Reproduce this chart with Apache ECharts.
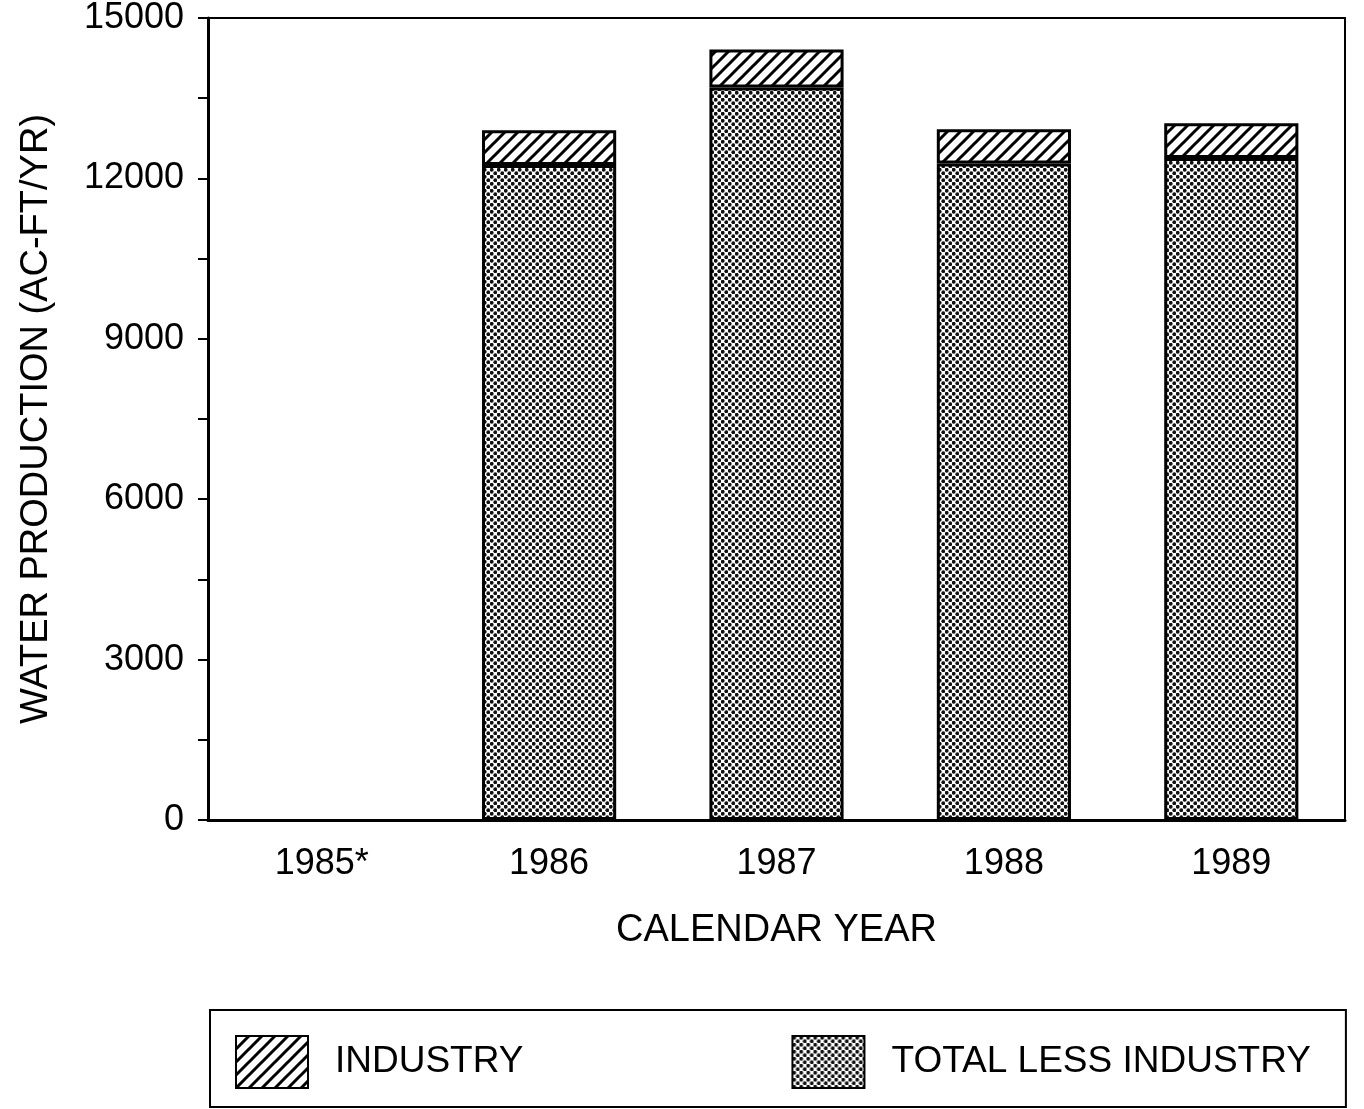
<!DOCTYPE html>
<html>
<head>
<meta charset="utf-8">
<script src="https://cdn.jsdelivr.net/npm/echarts@6/dist/echarts.min.js"></script>
<style>
  html, body { margin: 0; padding: 0; background: #fff; }
  #main { width: 1364px; height: 1109px; }
</style>
</head>
<body>
<div id="main"></div>
<script>
// data (1985* has no bar)
const years = ['1985*', '1986', '1987', '1988', '1989'];
const totalLessIndustry = [null, 12250, 13700, 12280, 12380];
const industry = [null, 650, 710, 640, 650];

// hatch "/" pattern for industry
function hatchPattern() {
  const c = document.createElement('canvas');
  const s = 13;
  c.width = s; c.height = s;
  const ctx = c.getContext('2d');
  ctx.fillStyle = '#fff';
  ctx.fillRect(0, 0, s, s);
  ctx.strokeStyle = '#000';
  ctx.lineWidth = 3;
  ctx.beginPath();
  ctx.moveTo(-1, s + 1); ctx.lineTo(s + 1, -1);
  ctx.moveTo(-s / 2 - 1, s / 2 + 1); ctx.lineTo(s / 2 + 1, -s / 2 - 1);
  ctx.moveTo(s / 2 - 1, s * 1.5 + 1); ctx.lineTo(s * 1.5 + 1, s / 2 - 1);
  ctx.stroke();
  return c;
}

// stipple dots for total less industry
function dotPattern() {
  const c = document.createElement('canvas');
  const s = 7;
  c.width = s; c.height = s;
  const ctx = c.getContext('2d');
  ctx.fillStyle = '#fff';
  ctx.fillRect(0, 0, s, s);
  ctx.fillStyle = '#111';
  [[1.75, 1.75], [5.25, 5.25]].forEach(function (p) {
    ctx.beginPath();
    ctx.arc(p[0], p[1], 1.9, 0, Math.PI * 2);
    ctx.fill();
  });
  return c;
}

const myChart = echarts.init(document.getElementById('main'));
const font = "'Liberation Sans', Arial, Helvetica, sans-serif";

const option = {
  backgroundColor: '#fff',
  animation: false,
  grid: {
    left: 208,
    right: 19,
    top: 15,
    bottom: 289,
    show: true,
    borderColor: '#000',
    borderWidth: 2
  },
  legend: {
    left: 210,
    top: 1010,
    data: ['INDUSTRY', 'TOTAL LESS INDUSTRY'],
    icon: 'rect',
    itemWidth: 72,
    itemHeight: 52,
    itemGap: 268,
    padding: [25, 35, 18, 25],
    borderColor: '#000',
    borderWidth: 2,
    textStyle: {
      fontFamily: font,
      fontSize: 37,
      color: '#000',
      padding: [0, 0, 0, 22]
    }
  },
  xAxis: {
    type: 'category',
    data: years,
    name: 'CALENDAR YEAR',
    nameLocation: 'middle',
    nameGap: 92,
    nameTextStyle: { fontFamily: font, fontSize: 38, color: '#000' },
    axisLine: { lineStyle: { color: '#000', width: 3 } },
    axisTick: { show: false },
    axisLabel: { fontFamily: font, fontSize: 36, color: '#000', margin: 26 }
  },
  yAxis: {
    type: 'value',
    min: 0,
    max: 15000,
    interval: 1500,
    name: 'WATER PRODUCTION (AC-FT/YR)',
    nameLocation: 'middle',
    nameGap: 152,
    nameTextStyle: { fontFamily: font, fontSize: 38, color: '#000' },
    axisLine: { show: true, lineStyle: { color: '#000', width: 3 } },
    axisTick: { show: true, length: 10, lineStyle: { color: '#000', width: 2 } },
    splitLine: { show: false },
    axisLabel: {
      fontFamily: font,
      fontSize: 36,
      color: '#000',
      margin: 24,
      formatter: function (v) {
        return v % 3000 === 0 ? String(v) : '';
      }
    }
  },
  series: [
    {
      name: 'TOTAL LESS INDUSTRY',
      type: 'bar',
      stack: 'total',
      barWidth: '59%',
      data: totalLessIndustry,
      itemStyle: {
        color: { image: dotPattern(), repeat: 'repeat' },
        borderColor: '#000',
        borderWidth: 3
      }
    },
    {
      name: 'INDUSTRY',
      type: 'bar',
      stack: 'total',
      barWidth: '59%',
      data: industry,
      itemStyle: {
        color: { image: hatchPattern(), repeat: 'repeat' },
        borderColor: '#000',
        borderWidth: 3
      }
    }
  ]
};

myChart.setOption(option);
</script>
</body>
</html>
